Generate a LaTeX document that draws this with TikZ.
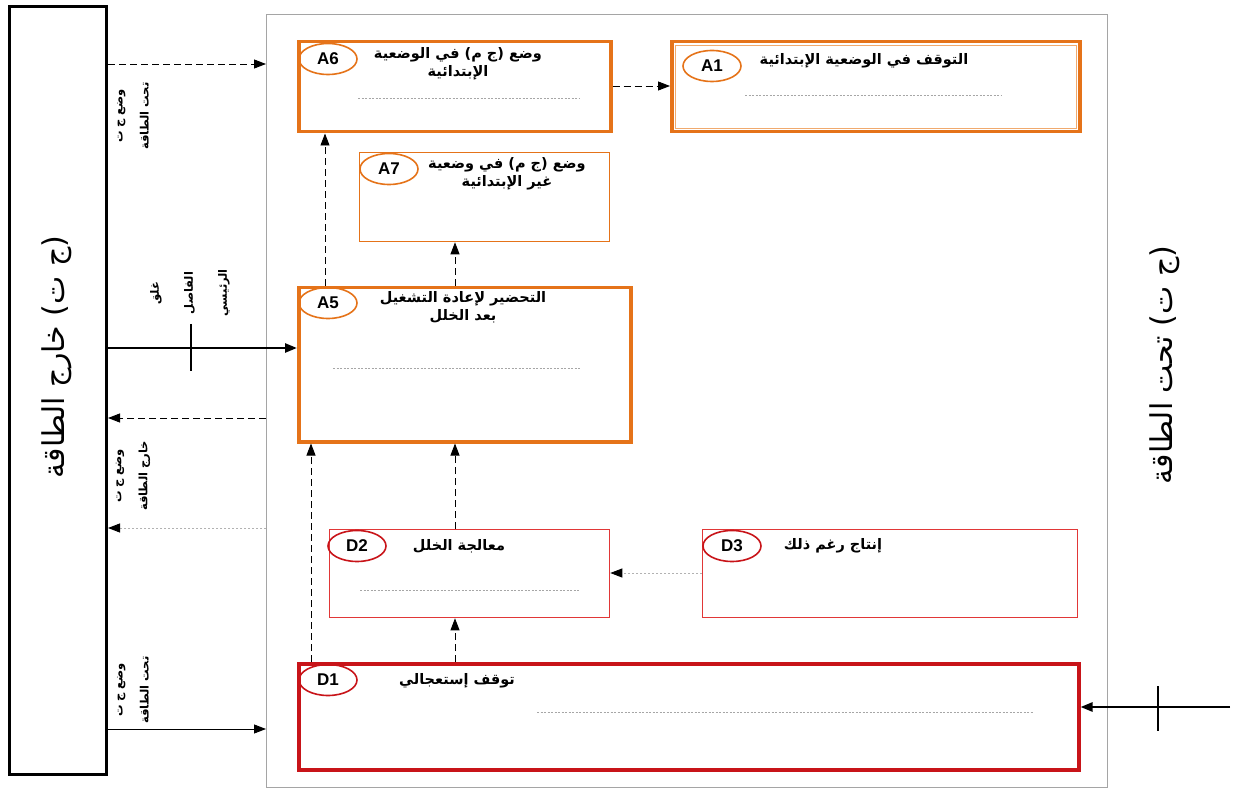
\documentclass[tikz,border=0pt]{standalone}
\usepackage{fontspec}
\setmainfont{Liberation Sans}
\newfontfamily\ar[Script=Arabic]{DejaVu Sans}
\TeXXeTstate=1
\usetikzlibrary{arrows.meta,shapes.geometric}
\definecolor{org}{RGB}{229,115,25}
\definecolor{orgl}{RGB}{240,170,110}
\definecolor{rd}{RGB}{200,20,25}
\definecolor{rdl}{RGB}{225,55,55}
\definecolor{framec}{RGB}{165,165,165}
\tikzset{
 boxthick/.style={draw, line width=3.5pt, anchor=north west, inner sep=0pt},
 boxthin/.style={draw, line width=1.3pt, anchor=north west, inner sep=0pt},
 tag/.style={ellipse, draw, line width=1.6pt, minimum width=58pt, minimum height=31pt, inner sep=0pt, font=\bfseries\fontsize{17}{17}\selectfont},
 ttl/.style={font=\ar\bfseries\fontsize{14.5}{18}\selectfont, align=center, inner sep=0pt},
 ttlr/.style={font=\ar\bfseries\fontsize{14.5}{18}\selectfont, align=center, inner sep=0pt},
 hint/.style={draw=gray!70, dash pattern=on 2pt off 1.5pt, line width=0.6pt},
 tip/.style={-{Triangle[length=12pt,width=9pt,color=black]}},
 dsh/.style={tip, dash pattern=on 7pt off 4pt, line width=0.9pt},
 dotted gray/.style={tip, draw=gray!60, dash pattern=on 2pt off 2pt, line width=0.9pt},
 side/.style={font=\ar\bfseries\fontsize{11.5}{26}\selectfont, align=center, rotate=90, inner sep=0pt},
 big/.style={font=\ar\fontsize{30}{36}\selectfont, rotate=90, inner sep=0pt},
}
\begin{document}
\begin{tikzpicture}[x=1pt,y=-1pt]
\useasboundingbox (0,0) rectangle (1234,791);
% frames
\node[boxthick, draw=black, line width=3pt, minimum width=97pt, minimum height=768pt] (out) at (8,5) {};
\node[anchor=north west, draw=framec, line width=0.8pt, minimum width=841pt, minimum height=773pt, inner sep=0pt] (frm) at (266,14) {};
\node[big] (outt) at (57,357) {\beginR (ج ت) خارج الطاقة\endR};
\node[big] (undt) at (1165,365) {\beginR (ج ت) تحت الطاقة\endR};

% boxes
\node[boxthick, draw=org, minimum width=312pt, minimum height=90pt] (A6) at (297,40) {};
\node[boxthick, draw=org, minimum width=408pt, minimum height=90pt] (A1) at (670,40) {};
\draw[orgl, line width=0.8pt] ([shift={(5pt,5pt)}]A1.south west) rectangle ([shift={(-5pt,-5pt)}]A1.north east);
\node[boxthin, draw=org, minimum width=250pt, minimum height=89pt] (A7) at (359,152) {};
\node[boxthick, draw=org, minimum width=332pt, minimum height=154pt] (A5) at (297,286) {};
\node[boxthin, draw=rdl, minimum width=280pt, minimum height=88pt] (D2) at (329,529) {};
\node[boxthin, draw=rdl, minimum width=375pt, minimum height=88pt] (D3) at (702,529) {};
\node[boxthick, draw=rd, minimum width=780pt, minimum height=106pt] (D1) at (297,662) {};

% tags
\node[tag, draw=org] (tA6) at (328,59) {A6};
\node[tag, draw=org] (tA1) at (712,66) {A1};
\node[tag, draw=org] (tA7) at (389,169) {A7};
\node[tag, draw=org] (tA5) at (328,303) {A5};
\node[tag, draw=rd] (tD2) at (357,546) {D2};
\node[tag, draw=rd] (tD3) at (732,546) {D3};
\node[tag, draw=rd] (tD1) at (328,680) {D1};

% titles
\node[ttl] (xA6) at (458,64) {\beginR وضع (ج م) في الوضعية\endR\\\beginR الإبتدائية\endR};
\node[ttl] (xA1) at (864,61) {\beginR التوقف في الوضعية الإبتدائية\endR};
\node[ttl] (xA7) at (507,174) {\beginR وضع (ج م) في وضعية\endR\\\beginR غير الإبتدائية\endR};
\node[ttl] (xA5) at (463,307) {\beginR التحضير لإعادة التشغيل\endR\\\beginR بعد الخلل\endR};
\node[ttlr] (xD2) at (459,546) {\beginR معالجة الخلل\endR};
\node[ttlr] (xD3) at (833,546) {\beginR إنتاج رغم ذلك\endR};
\node[ttlr] (xD1) at (457,681) {\beginR توقف إستعجالي\endR};

% hint lines
\draw[hint] (358,98) -- (580,98);
\draw[hint] (745,95) -- (1002,95);
\draw[hint] (333,368) -- (580,368);
\draw[hint] (360,590) -- (580,590);
\draw[hint] (537,712) -- (1034,712);

% side labels
\node[side] (s1) at (133,116) {\beginR وضع ج ت\endR\\\beginR تحت الطاقة\endR};
\node[side, font=\ar\bfseries\fontsize{11.5}{34}\selectfont] (s2) at (190,293) {\beginR غلق\endR\\\beginR الفاصل\endR\\\beginR الرئيسي\endR};
\node[side] (s3) at (133,476) {\beginR وضع ج ت\endR\\\beginR خارج الطاقة\endR};
\node[side] (s4) at (133,690) {\beginR وضع ج ت\endR\\\beginR تحت الطاقة\endR};

% connectors on the left lane
\draw[dsh] (out.east |- 0,64) -- (frm.west |- 0,64);
\draw[tip, line width=2.5pt] (out.east |- 0,348) -- (A5.west |- 0,348);
\draw[line width=2.5pt] (191,324) -- (191,371);
\draw[dsh] (frm.west |- 0,418) -- (out.east |- 0,418);
\draw[dotted gray] (frm.west |- 0,528) -- (out.east |- 0,528);
\draw[tip, line width=0.9pt] (out.east |- 0,729) -- (frm.west |- 0,729);

% right entry
\coordinate (rin) at (1230,707);
\draw[tip, line width=2.5pt] (rin) -- (D1.east |- rin);
\draw[line width=2.5pt] (1158,686) -- (1158,731);

% internal connectors
\draw[dsh] (A6.east |- 0,86) -- (A1.west |- 0,86);
\draw[dsh] (A5.north -| 325,0) -- (A6.south -| 325,0);
\draw[dsh] (A5.north -| 455,0) -- (A7.south -| 455,0);
\draw[dsh] (D1.north -| 311,0) -- (A5.south -| 311,0);
\draw[dsh] (D2.north -| 455,0) -- (A5.south -| 455,0);
\draw[dsh] (D1.north -| 455,0) -- (D2.south -| 455,0);
\draw[dotted gray] (D3.west |- 0,573) -- (D2.east |- 0,573);
\end{tikzpicture}
\end{document}
